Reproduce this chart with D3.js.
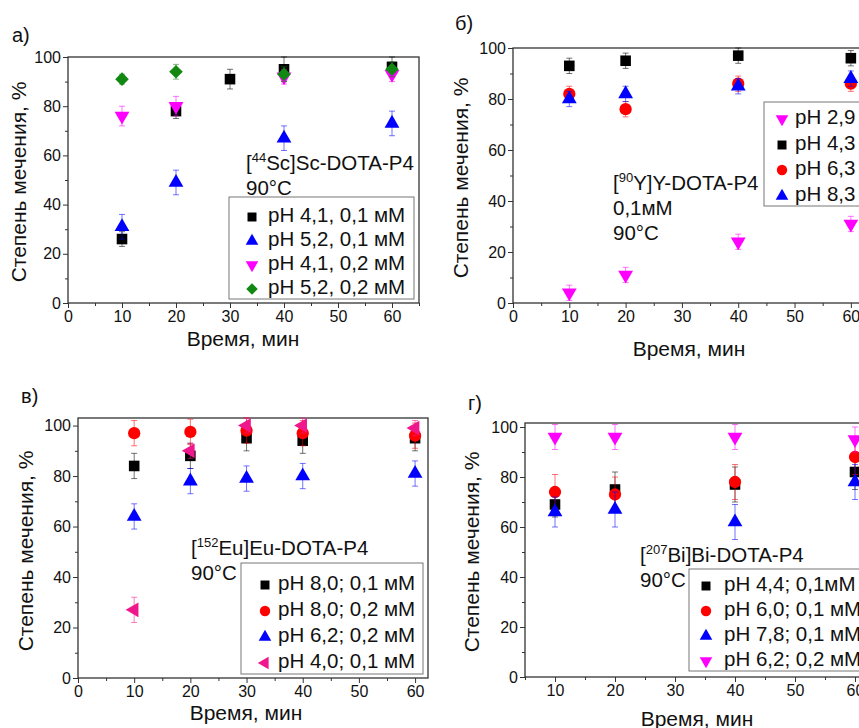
<!DOCTYPE html>
<html>
<head>
<meta charset="utf-8">
<script src="https://cdn.jsdelivr.net/npm/d3@7"></script>
<style>
  body { margin: 0; background: #fff; }
  text { font-family: "Liberation Sans", Arial, sans-serif; fill: #111; }
</style>
</head>
<body>
<svg id="chart" width="859" height="728"></svg>
<script>
// ---- data ----
// а) [44Sc]Sc-DOTA-P4
var scTime5 = [10, 20, 30, 40, 60];
var scTime4 = [10, 20, 40, 60];
var scPh41_01 = [26, 78, 91, 95, 96],   scPh41_01Err = [3, 3, 4, 5, 4];
var scPh52_01 = [31, 49, 67, 73],       scPh52_01Err = [5, 5, 5, 5];
var scPh41_02 = [76, 80, 92, 93],       scPh41_02Err = [4, 4, 3, 3];
var scPh52_02 = [91, 94, 93, 95],       scPh52_02Err = [2, 3, 3, 3];

// б) [90Y]Y-DOTA-P4
var yTime = [10, 20, 40, 60];
var yPh29 = [4, 11, 24, 31],  yPh29Err = [3, 3, 3, 3];
var yPh43 = [93, 95, 97, 96], yPh43Err = [3, 3, 3, 3];
var yPh63 = [82, 76, 86, 86], yPh63Err = [3, 3, 3, 3];
var yPh83 = [80, 82, 85, 88], yPh83Err = [3, 3, 3, 3];

// в) [152Eu]Eu-DOTA-P4
var euTime = [10, 20, 30, 40, 60];
var euPh80_01 = [84, 88, 95, 94, 95],      euPh80_01Err = [5, 5, 5, 5, 5];
var euPh80_02 = [97, 97.5, 98, 97, 96],    euPh80_02Err = [5, 5, 5, 5, 5];
var euPh62_02 = [64, 78, 79, 80, 81],      euPh62_02Err = [5, 5, 5, 5, 5];
var euPh40_01 = [27, 90, 100, 100, 99],    euPh40_01Err = [5, 3, 3, 3, 3];

// г) [207Bi]Bi-DOTA-P4
var biTime = [10, 20, 40, 60];
var biPh44 = [69, 75, 77, 82], biPh44Err = [5, 7, 7, 7];
var biPh60 = [74, 73, 78, 88], biPh60Err = [7, 7, 7, 7];
var biPh78 = [66, 67, 62, 78], biPh78Err = [6, 7, 7, 7];
var biPh62 = [96, 96, 96, 95], biPh62Err = [5, 5, 5, 5];

var xTicks = [0, 10, 20, 30, 40, 50, 60];
var xTicksBi = [10, 20, 30, 40, 50, 60];
var yTicks = [0, 20, 40, 60, 80, 100];

var BLACK = "#000", BLUE = "#0000ff", MAG = "#ff00ff", GREEN = "#118811", RED = "#ff0000", PINK = "#f0168c";

// panels: layout + series
var panels = [
  { label: "а)", lx: 12, ly: 42,
    box: [68, 57, 419, 303], xDom: [0, 65], yDom: [0, 100], xt: xTicks,
    xTitle: [243, 346], yTitle: [19, 182],
    note: [246, 170, [["[", "44", "Sc]Sc-DOTA-P4"], ["90°C"]]],
    leg: { box: [229, 197, 414, 299], sx: 252, tx: 268, rows: [215, 239, 263, 287] },
    series: [
      { name: "pH 4,1, 0,1 мМ", t: scTime5, v: scPh41_01, e: scPh41_01Err, shape: "square", color: BLACK },
      { name: "pH 5,2, 0,1 мМ", t: scTime4, v: scPh52_01, e: scPh52_01Err, shape: "up", color: BLUE },
      { name: "pH 4,1, 0,2 мМ", t: scTime4, v: scPh41_02, e: scPh41_02Err, shape: "down", color: MAG },
      { name: "pH 5,2, 0,2 мМ", t: scTime4, v: scPh52_02, e: scPh52_02Err, shape: "diamond", color: GREEN }
    ] },
  { label: "б)", lx: 455, ly: 30,
    box: [513, 48, 879, 303], xDom: [0, 65], yDom: [0, 100], xt: xTicks,
    xTitle: [689, 356], yTitle: [461, 178],
    note: [613, 190, [["[", "90", "Y]Y-DOTA-P4"], ["0,1мМ"], ["90°C"]]],
    leg: { box: [764, 102, 900, 206], sx: 782, tx: 795, rows: [117, 143, 168, 194] },
    series: [
      { name: "pH 2,9", t: yTime, v: yPh29, e: yPh29Err, shape: "down", color: MAG },
      { name: "pH 4,3", t: yTime, v: yPh43, e: yPh43Err, shape: "square", color: BLACK },
      { name: "pH 6,3", t: yTime, v: yPh63, e: yPh63Err, shape: "circle", color: RED },
      { name: "pH 8,3", t: yTime, v: yPh83, e: yPh83Err, shape: "up", color: BLUE }
    ] },
  { label: "в)", lx: 21, ly: 403,
    box: [78, 418, 428, 678], xDom: [0, 62.3], yDom: [0, 103], xt: xTicks,
    xTitle: [246, 720], yTitle: [26, 551],
    note: [191, 555, [["[", "152", "Eu]Eu-DOTA-P4"], ["90°C"]]],
    leg: { box: [241, 563, 423, 674], sx: 265, tx: 278, rows: [583, 609, 635, 661] },
    series: [
      { name: "pH 8,0; 0,1 мМ", t: euTime, v: euPh80_01, e: euPh80_01Err, shape: "square", color: BLACK },
      { name: "pH 8,0; 0,2 мМ", t: euTime, v: euPh80_02, e: euPh80_02Err, shape: "circle", color: RED },
      { name: "pH 6,2; 0,2 мМ", t: euTime, v: euPh62_02, e: euPh62_02Err, shape: "up", color: BLUE },
      { name: "pH 4,0; 0,1 мМ", t: euTime, v: euPh40_01, e: euPh40_01Err, shape: "left", color: PINK }
    ] },
  { label: "г)", lx: 468, ly: 410,
    box: [525, 423, 885, 677], xDom: [5, 65], yDom: [0, 101.6], xt: xTicksBi,
    xTitle: [697, 726], yTitle: [472, 552],
    note: [640, 562, [["[", "207", "Bi]Bi-DOTA-P4"], ["90°C"]]],
    leg: { box: [689, 569, 900, 671], sx: 706, tx: 724, rows: [584, 609, 634, 659] },
    series: [
      { name: "pH 4,4; 0,1мМ", t: biTime, v: biPh44, e: biPh44Err, shape: "square", color: BLACK },
      { name: "pH 6,0; 0,1 мМ", t: biTime, v: biPh60, e: biPh60Err, shape: "circle", color: RED },
      { name: "pH 7,8; 0,1 мМ", t: biTime, v: biPh78, e: biPh78Err, shape: "up", color: BLUE },
      { name: "pH 6,2; 0,2 мМ", t: biTime, v: biPh62, e: biPh62Err, shape: "down", color: MAG }
    ] }
];

var svg = d3.select("#chart");

// marker path + rotation for each shape
function marker(shape, big) {
  var k = big ? 1 : 0.72;
  if (shape == "square") return { d: d3.symbol(d3.symbolSquare, 112 * k)(), rot: 0 };
  if (shape == "circle") return { d: d3.symbol(d3.symbolCircle, 118 * k)(), rot: 0 };
  if (shape == "diamond") return { d: d3.symbol(d3.symbolSquare, 92 * k)(), rot: 45 };
  var tri = d3.symbol(d3.symbolTriangle, 95 * k)();
  if (shape == "down") return { d: tri, rot: 180 };
  if (shape == "left") return { d: tri, rot: -90 };
  return { d: tri, rot: 0 };
}

panels.forEach(function(p) {
  var x = d3.scaleLinear().domain(p.xDom).range([p.box[0], p.box[2]]);
  var y = d3.scaleLinear().domain(p.yDom).range([p.box[3], p.box[1]]);
  var g = svg.append("g");

  // minor ticks
  var xMinor = d3.range(Math.ceil(p.xDom[0] / 5) * 5, p.xDom[1] + 0.01, 5).filter(function(d) { return d % 10 != 0; });
  var yMinor = [10, 30, 50, 70, 90];
  g.append("g").attr("transform", "translate(0," + p.box[3] + ")")
    .call(d3.axisBottom(x).tickValues(xMinor).tickSize(3).tickFormat("").tickSizeOuter(0))
    .call(function(a) { a.select(".domain").remove(); });
  g.append("g").attr("transform", "translate(" + p.box[0] + ",0)")
    .call(d3.axisLeft(y).tickValues(yMinor).tickSize(3).tickFormat("").tickSizeOuter(0))
    .call(function(a) { a.select(".domain").remove(); });

  // major ticks with labels
  var xa = g.append("g").attr("transform", "translate(0," + p.box[3] + ")")
    .call(d3.axisBottom(x).tickValues(p.xt).tickSize(5).tickPadding(3).tickSizeOuter(0));
  var ya = g.append("g").attr("transform", "translate(" + p.box[0] + ",0)")
    .call(d3.axisLeft(y).tickValues(yTicks).tickSize(5).tickPadding(2).tickSizeOuter(0));
  [xa, ya].forEach(function(a) {
    a.select(".domain").remove();
    a.selectAll("text").style("font-size", "16px").style("font-family", "Liberation Sans, Arial, sans-serif").attr("fill", "#222");
  });
  g.selectAll(".tick line").attr("stroke", "#333");

  // frame
  g.append("rect").attr("x", p.box[0]).attr("y", p.box[1])
    .attr("width", p.box[2] - p.box[0]).attr("height", p.box[3] - p.box[1])
    .attr("fill", "none").attr("stroke", "#333").attr("stroke-width", 1.3);

  // error bars then markers
  p.series.forEach(function(s) {
    var pts = s.t.map(function(t, i) { return { t: t, v: s.v[i], e: s.e[i] }; });
    var eb = g.append("g").attr("stroke", s.color).attr("stroke-opacity", 0.55).attr("stroke-width", 1);
    pts.forEach(function(d) {
      var cx = x(d.t), y1 = y(d.v - d.e), y2 = y(d.v + d.e);
      eb.append("line").attr("x1", cx).attr("x2", cx).attr("y1", y1).attr("y2", y2);
      eb.append("line").attr("x1", cx - 3).attr("x2", cx + 3).attr("y1", y1).attr("y2", y1);
      eb.append("line").attr("x1", cx - 3).attr("x2", cx + 3).attr("y1", y2).attr("y2", y2);
    });
    var m = marker(s.shape, true);
    g.append("g").selectAll("path").data(pts).enter().append("path")
      .attr("d", m.d)
      .attr("transform", function(d) { return "translate(" + x(d.t) + "," + y(d.v) + ") rotate(" + m.rot + ")"; })
      .attr("fill", s.color);
  });

  // annotation
  var nx = p.note[0], ny = p.note[1];
  p.note[2].forEach(function(line, i) {
    var t = g.append("text").attr("x", nx).attr("y", ny + i * 25).style("font-size", "20.5px");
    if (line.length == 3) {
      t.append("tspan").text(line[0]);
      t.append("tspan").attr("dy", -8).style("font-size", "13px").text(line[1]);
      t.append("tspan").attr("dy", 8).text(line[2]);
    } else {
      t.text(line[0]);
    }
  });

  // legend
  var L = p.leg;
  g.append("rect").attr("x", L.box[0]).attr("y", L.box[1])
    .attr("width", L.box[2] - L.box[0]).attr("height", L.box[3] - L.box[1])
    .attr("fill", "#fff").attr("stroke", "#777").attr("stroke-width", 1);
  p.series.forEach(function(s, i) {
    var m = marker(s.shape, false);
    g.append("path").attr("d", m.d)
      .attr("transform", "translate(" + L.sx + "," + (L.rows[i] + 2) + ") rotate(" + m.rot + ")")
      .attr("fill", s.color);
    g.append("text").attr("x", L.tx).attr("y", L.rows[i] + 7).style("font-size", "20.5px").text(s.name);
  });

  // axis titles
  g.append("text").attr("x", p.xTitle[0]).attr("y", p.xTitle[1]).attr("text-anchor", "middle")
    .style("font-size", "21px").text("Время, мин");
  g.append("text").attr("transform", "translate(" + (p.yTitle[0] + 7) + "," + p.yTitle[1] + ") rotate(-90)")
    .attr("text-anchor", "middle").style("font-size", "21px").text("Степень мечения, %");

  // panel letter
  g.append("text").attr("x", p.lx).attr("y", p.ly).style("font-size", "20px").text(p.label);
});
</script>
</body>
</html>
